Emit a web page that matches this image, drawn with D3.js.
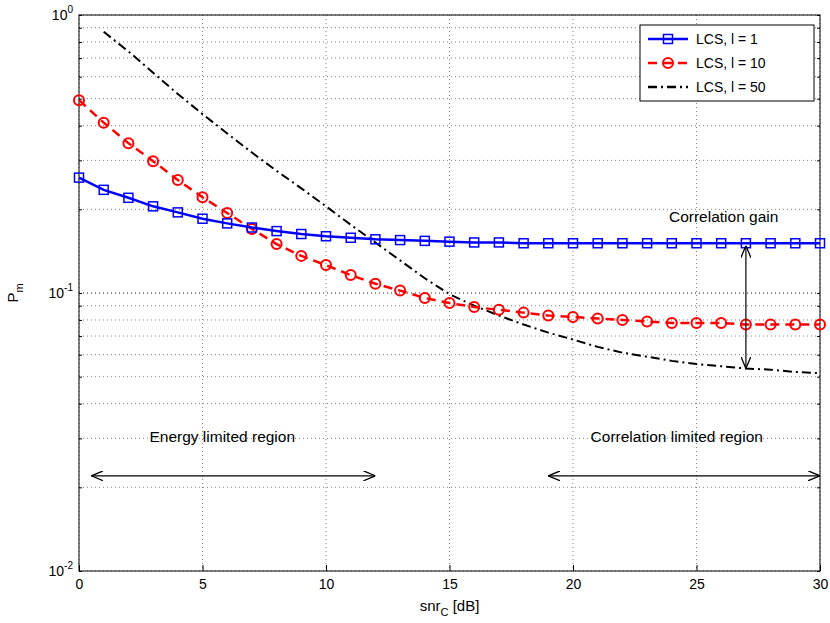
<!DOCTYPE html>
<html>
<head>
<meta charset="utf-8" />
<style>
html, body { margin: 0; background: #fff; }
text { font-family: "Liberation Sans", Arial, sans-serif; }
</style>
</head>
<body>
<svg width="830" height="623"></svg>
<script src="https://cdn.jsdelivr.net/npm/d3@7"></script>
<script>
// snr values [dB]
var snr = d3.range(0, 31);
var lcs1 = [0.26,0.235,0.22,0.205,0.195,0.185,0.178,0.172,0.167,0.163,0.16,0.158,0.156,0.155,0.154,0.153,0.152,0.152,0.151,0.151,0.151,0.151,0.151,0.151,0.151,0.151,0.151,0.151,0.151,0.151,0.151];
var lcs10 = [0.494,0.41,0.346,0.298,0.255,0.221,0.194,0.17,0.15,0.136,0.126,0.116,0.108,0.102,0.096,0.092,0.089,0.087,0.085,0.083,0.082,0.081,0.08,0.079,0.078,0.078,0.078,0.077,0.077,0.077,0.077];
var snr50 = d3.range(1, 31);
var lcs50 = [0.87,0.74,0.62,0.52,0.44,0.375,0.32,0.275,0.238,0.205,0.176,0.152,0.131,0.113,0.099,0.09,0.083,0.077,0.072,0.068,0.064,0.061,0.059,0.057,0.0555,0.0545,0.0535,0.053,0.052,0.0515];
var xTicks = [0,5,10,15,20,25,30];

var svg = d3.select('svg');
var m = {l: 79, r: 10, t: 15, b: 52};
var W = 830, H = 623;
var x = d3.scaleLinear().domain([0,30]).range([m.l, W-m.r]);
var y = d3.scaleLog().domain([0.01,1]).range([H-m.b, m.t]);

// grid
var minor = [];
[0.01,0.1].forEach(function(d){ for (var k=1;k<=10;k++) minor.push(d*k); });
svg.selectAll('.gy').data(minor).enter().append('line')
	.attr('x1', m.l).attr('x2', W-m.r)
	.attr('y1', function(d){ return y(d); }).attr('y2', function(d){ return y(d); })
	.attr('stroke', '#000').attr('stroke-width', 0.5).attr('stroke-dasharray', '1,3');
svg.selectAll('.gx').data(xTicks).enter().append('line')
	.attr('x1', function(d){ return x(d); }).attr('x2', function(d){ return x(d); })
	.attr('y1', m.t).attr('y2', H-m.b)
	.attr('stroke', '#000').attr('stroke-width', 0.5).attr('stroke-dasharray', '1,3');

// axes
svg.append('rect').attr('x', m.l).attr('y', m.t).attr('width', W-m.r-m.l).attr('height', H-m.b-m.t)
	.attr('fill', 'none').attr('stroke', '#000');
svg.append('g').attr('transform', 'translate(0,' + (H-m.b) + ')')
	.call(d3.axisBottom(x).tickValues(xTicks).tickSize(-6).tickPadding(8))
	.call(function(g){ g.select('.domain').remove(); g.selectAll('text').attr('font-size', 14); });
svg.append('g').attr('transform', 'translate(' + (W-m.r) + ',0)')
	.call(d3.axisLeft(y).tickValues(minor).tickSize(3).tickFormat(''))
	.call(function(g){ g.select('.domain').remove(); });
svg.append('g').attr('transform', 'translate(' + m.l + ',0)')
	.call(d3.axisRight(y).tickValues(minor).tickSize(3).tickFormat(''))
	.call(function(g){ g.select('.domain').remove(); });
[0.01,0.1,1].forEach(function(d, i){
	var t = svg.append('text').attr('x', m.l-6).attr('y', y(d)+5).attr('text-anchor', 'end').attr('font-size', 14);
	t.append('tspan').text('10');
	t.append('tspan').attr('dy', -7).attr('font-size', 10).text(i-2 === 0 ? '0' : (i-2));
});
var xl = svg.append('text').attr('x', (m.l + W-m.r)/2).attr('y', 611).attr('text-anchor', 'middle').attr('font-size', 15);
xl.append('tspan').text('snr');
xl.append('tspan').attr('dy', 5).attr('font-size', 11).text('C');
xl.append('tspan').attr('dy', -5).text(' [dB]');
var yl = svg.append('text').attr('transform', 'translate(18,' + ((m.t + H-m.b)/2) + ') rotate(-90)').attr('text-anchor', 'middle').attr('font-size', 15);
yl.append('tspan').text('P');
yl.append('tspan').attr('dy', 5).attr('font-size', 11).text('m');

// series
var line = d3.line().x(function(d){ return x(d[0]); }).y(function(d){ return y(d[1]); });
var d1 = d3.zip(snr, lcs1), d10 = d3.zip(snr, lcs10), d50 = d3.zip(snr50, lcs50);
svg.append('path').attr('d', line(d50)).attr('fill', 'none').attr('stroke', '#000').attr('stroke-width', 2).attr('stroke-dasharray', '9,4,2,4');
svg.append('path').attr('d', line(d10)).attr('fill', 'none').attr('stroke', '#f00').attr('stroke-width', 2.5).attr('stroke-dasharray', '9,6');
svg.selectAll('.c').data(d10).enter().append('circle')
	.attr('cx', function(d){ return x(d[0]); }).attr('cy', function(d){ return y(d[1]); })
	.attr('r', 5).attr('fill', 'none').attr('stroke', '#f00').attr('stroke-width', 2);
svg.append('path').attr('d', line(d1)).attr('fill', 'none').attr('stroke', '#00f').attr('stroke-width', 2.5);
svg.selectAll('.s').data(d1).enter().append('rect')
	.attr('x', function(d){ return x(d[0])-4.5; }).attr('y', function(d){ return y(d[1])-4.5; })
	.attr('width', 9).attr('height', 9).attr('fill', 'none').attr('stroke', '#00f').attr('stroke-width', 1.5);

// annotations
var defs = svg.append('defs');
defs.append('marker').attr('id', 'ah').attr('viewBox', '0 0 12 10').attr('refX', 12).attr('refY', 5)
	.attr('markerWidth', 12).attr('markerHeight', 10).attr('orient', 'auto-start-reverse').attr('markerUnits', 'userSpaceOnUse')
	.append('path').attr('d', 'M0,0 L12,5 L0,10').attr('fill', 'none').attr('stroke', '#000').attr('stroke-width', 1.3);
function arrow(x1, y1, x2, y2){
	svg.append('line').attr('x1', x1).attr('y1', y1).attr('x2', x2).attr('y2', y2)
		.attr('stroke', '#000').attr('stroke-width', 1.2).attr('marker-start', 'url(#ah)').attr('marker-end', 'url(#ah)');
}
arrow(x(0.5), y(0.022), x(12), y(0.022));
arrow(x(19), y(0.022), x(30), y(0.022));
arrow(x(27), y(0.148), x(27), y(0.0535));
svg.append('text').attr('x', x(5.8)).attr('y', y(0.029)).attr('text-anchor', 'middle').attr('font-size', 15.5).text('Energy limited region');
svg.append('text').attr('x', x(24.2)).attr('y', y(0.029)).attr('text-anchor', 'middle').attr('font-size', 15.5).text('Correlation limited region');
svg.append('text').attr('x', x(26.1)).attr('y', y(0.18)).attr('text-anchor', 'middle').attr('font-size', 15.5).text('Correlation gain');

// legend
var lg = svg.append('g').attr('transform', 'translate(640,25)');
lg.append('rect').attr('width', 174).attr('height', 76).attr('fill', '#fff').attr('stroke', '#000');
var items = [['LCS, l = 1', '#00f', null, 'sq'], ['LCS, l = 10', '#f00', '9,6', 'ci'], ['LCS, l = 50', '#000', '9,4,2,4', null]];
items.forEach(function(it, i){
	var yy = 14 + i*24;
	lg.append('line').attr('x1', 8).attr('x2', 48).attr('y1', yy).attr('y2', yy).attr('stroke', it[1]).attr('stroke-width', 2.5).attr('stroke-dasharray', it[2]);
	if (it[3] === 'sq') lg.append('rect').attr('x', 23.5).attr('y', yy-4.5).attr('width', 9).attr('height', 9).attr('fill', 'none').attr('stroke', it[1]).attr('stroke-width', 1.5);
	if (it[3] === 'ci') lg.append('circle').attr('cx', 28).attr('cy', yy).attr('r', 5).attr('fill', 'none').attr('stroke', it[1]).attr('stroke-width', 2);
	lg.append('text').attr('x', 56).attr('y', yy+5).attr('font-size', 14).text(it[0]);
});
</script>
</body>
</html>
